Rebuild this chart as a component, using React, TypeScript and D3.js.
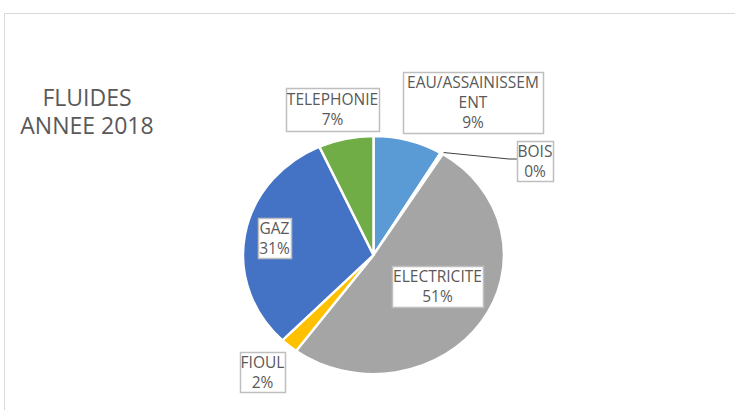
import React from "react";
import * as d3 from "d3";

const categories = ["EAU/ASSAINISSEMENT", "BOIS", "ELECTRICITE", "FIOUL", "GAZ", "TELEPHONIE"];
const values = [8.6, 0.3, 51.2, 2.2, 30.9, 6.8];
const colors = ["#5B9BD5", "#7F6000", "#A5A5A5", "#FFC000", "#4472C4", "#70AD47"];
const labelLines = [["EAU/ASSAINISSEM", "ENT"], ["BOIS"], ["ELECTRICITE"], ["FIOUL"], ["GAZ"], ["TELEPHONIE"]];
const titleLines = ["FLUIDES", "ANNEE 2018"];

// label boxes (layout): x, y, w, h
const boxes = [
  { x: 403, y: 72, w: 140, h: 61 },
  { x: 517, y: 141, w: 36, h: 40 },
  { x: 392, y: 266, w: 91, h: 41 },
  { x: 240, y: 352, w: 45, h: 40 },
  { x: 258, y: 218, w: 33, h: 40 },
  { x: 286, y: 88, w: 93, h: 43 },
];

const W = 735, H = 410;
const cx = 373.5, cy = 255, rx = 130.5, ry = 119;

export default function App() {
  const total = d3.sum(values);
  const pie = d3.pie<number>().sort(null).value((d) => d)(values);
  const arc = d3.arc<d3.PieArcDatum<number>>().innerRadius(0).outerRadius(rx);
  const font = "'Open Sans', sans-serif";
  const textColor = "#595959";

  const bois = pie[1];
  const ang = (bois.startAngle + bois.endAngle) / 2;
  const lx0 = cx + Math.sin(ang) * rx;
  const ly0 = cy - Math.cos(ang) * ry;

  return (
    <svg width={W} height={H} style={{ position: "absolute", left: 0, top: 0, background: "#fff" }}>
      <rect x={0} y={0} width={W} height={H} fill="#fff" />
      <path d={`M4.5,${H} V13.5 H${W}`} fill="none" stroke="#d9d9d9" strokeWidth={1} />
      <g fontFamily={font} fill={textColor} fontSize={23} textAnchor="middle">
        {titleLines.map((t, i) => (
          <text key={t} x={87} y={106 + i * 28}>{t}</text>
        ))}
      </g>
      <g transform={`translate(${cx},${cy}) scale(1,${ry / rx})`}>
        {pie.map((p, i) => (
          <path key={categories[i]} d={arc(p) || ""} fill={colors[i]} stroke="#fff" strokeWidth={2.5} strokeLinejoin="round" />
        ))}
      </g>
      <polyline
        points={`${lx0 + 2},${ly0 - 1} 509,159 ${boxes[1].x},159`}
        fill="none"
        stroke="#404040"
        strokeWidth={1}
      />
      {boxes.map((b, i) => {
        const lines = [...labelLines[i], `${Math.round((values[i] / total) * 100)}%`];
        const lh = 20;
        const startY = b.y + b.h / 2 - ((lines.length - 1) * lh) / 2 + 5.5;
        return (
          <g key={categories[i]}>
            <rect x={b.x + 0.5} y={b.y + 0.5} width={b.w} height={b.h} fill="#fff" stroke="#bfbfbf" strokeWidth={1.5} />
            {lines.map((t, j) => (
              <text
                key={j}
                x={b.x + b.w / 2}
                y={startY + j * lh}
                textAnchor="middle"
                fontFamily={font}
                fontSize={15.5}
                fill={textColor}
              >
                {t}
              </text>
            ))}
          </g>
        );
      })}
    </svg>
  );
}
